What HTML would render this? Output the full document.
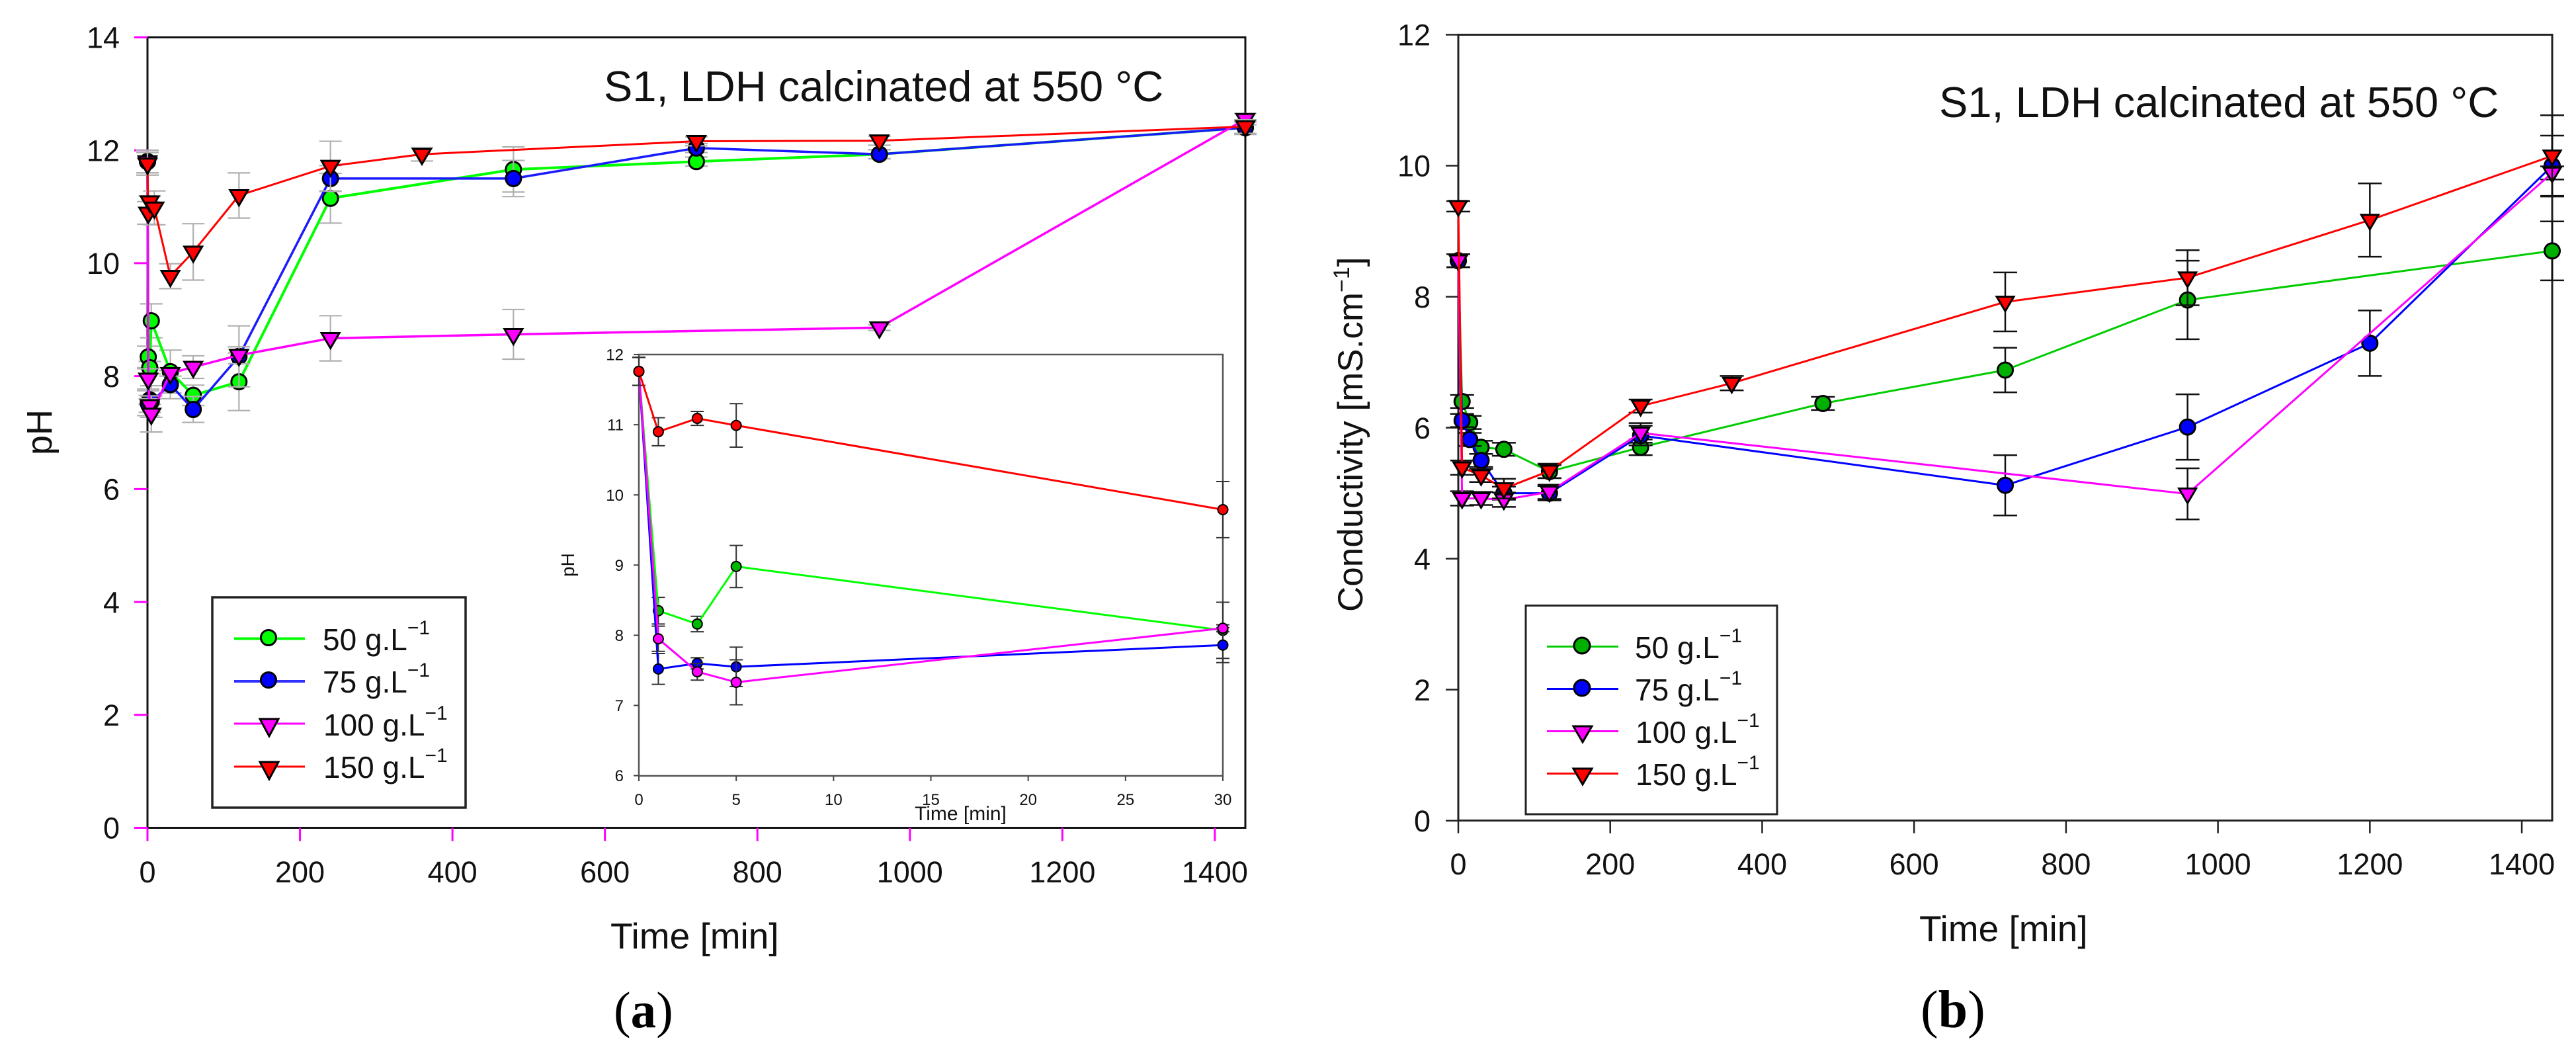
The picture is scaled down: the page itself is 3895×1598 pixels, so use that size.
<!DOCTYPE html>
<html lang="en">
<head>
<meta charset="utf-8">
<title>pH and conductivity over time</title>
<style>
html,body{margin:0;padding:0;background:#fff}
svg{display:block}
text{font-family:"Liberation Sans",sans-serif;fill:#111}
.cap{font-family:"Liberation Serif",serif;fill:#000}
</style>
</head>
<body>
<svg id="figure" xmlns="http://www.w3.org/2000/svg" width="3895" height="1598" viewBox="0 0 3895 1598">
<rect x="0" y="0" width="3895" height="1598" fill="#fff"/>

<g id="panel-a">
  <rect x="223" y="56.5" width="1660" height="1195" fill="none" stroke="#111" stroke-width="3"/>
  <text x="923" y="1434" font-size="55">Time [min]</text>
  <text transform="translate(78,688) rotate(-90)" font-size="54">pH</text>
  <text x="913" y="153" font-size="65">S1, LDH calcinated at 550 °C</text>
  <g id="ticks-a"></g>
  <g id="marks-a"></g>

  <g>
    <rect x="966" y="536" width="883" height="637" fill="none" stroke="#555" stroke-width="2.5"/>
    <text x="1383" y="1240" font-size="30" fill="#333">Time [min]</text>
    <text transform="translate(868,872) rotate(-90)" font-size="28">pH</text>
    <g id="ticks-i"></g>
    <g id="marks-i"></g>
  </g>

  <g>
    <rect x="321" y="903" width="383" height="318" fill="#fff" stroke="#222" stroke-width="3.5"/>
    <g>
      <line x1="354" x2="461" y1="965.5" y2="965.5" stroke="#00ff00" stroke-width="4"/>
      <circle cx="406" cy="964" r="11.5" fill="#00ff00" stroke="#000" stroke-width="3"/>
      <text x="488" y="983" font-size="46">50 g.L<tspan dy="-24" font-size="30">−1</tspan></text>
    </g>
    <g>
      <line x1="354" x2="461" y1="1030" y2="1030" stroke="#3030ff" stroke-width="4"/>
      <circle cx="406" cy="1028" r="11.5" fill="#0000ff" stroke="#000" stroke-width="3"/>
      <text x="488" y="1047" font-size="46">75 g.L<tspan dy="-24" font-size="30">−1</tspan></text>
    </g>
    <g>
      <line x1="354" x2="461" y1="1094" y2="1094" stroke="#ff00ff" stroke-width="3"/>
      <polygon points="393,1087 421,1087 407,1113" fill="#ff00ff" stroke="#000" stroke-width="3"/>
      <text x="489" y="1112" font-size="46">100 g.L<tspan dy="-24" font-size="30">−1</tspan></text>
    </g>
    <g>
      <line x1="354" x2="461" y1="1159" y2="1159" stroke="#ff0000" stroke-width="3"/>
      <polygon points="393,1152 421,1152 407,1178" fill="#ff0000" stroke="#000" stroke-width="3"/>
      <text x="489" y="1176" font-size="46">150 g.L<tspan dy="-24" font-size="30">−1</tspan></text>
    </g>
  </g>
  <text x="928" y="1553" font-size="77" class="cap">(<tspan font-weight="bold">a</tspan>)</text>
</g>

<g id="panel-b">
  <rect x="2205" y="52.5" width="1654" height="1188" fill="none" stroke="#222" stroke-width="3"/>
  <text x="2902" y="1423" font-size="55">Time [min]</text>
  <text transform="translate(2060,925) rotate(-90)" font-size="53">Conductivity [mS.cm<tspan dy="-20" font-size="34">−1</tspan><tspan dy="20">]</tspan></text>
  <text x="2932" y="177" font-size="65">S1, LDH calcinated at 550 °C</text>
  <g id="ticks-b"></g>
  <g id="marks-b"></g>

  <g>
    <rect x="2307" y="915.5" width="380" height="315.5" fill="#fff" stroke="#222" stroke-width="3"/>
    <g>
      <line x1="2339" x2="2447" y1="977.5" y2="977.5" stroke="#00cc00" stroke-width="3"/>
      <circle cx="2392" cy="976" r="12" fill="#00b000" stroke="#000" stroke-width="3"/>
      <text x="2472" y="995" font-size="46">50 g.L<tspan dy="-24" font-size="30">−1</tspan></text>
    </g>
    <g>
      <line x1="2339" x2="2447" y1="1041.5" y2="1041.5" stroke="#0000ff" stroke-width="3"/>
      <circle cx="2392" cy="1040" r="12" fill="#0000ff" stroke="#000" stroke-width="3"/>
      <text x="2472" y="1059" font-size="46">75 g.L<tspan dy="-24" font-size="30">−1</tspan></text>
    </g>
    <g>
      <line x1="2339" x2="2447" y1="1105.5" y2="1105.5" stroke="#ff00ff" stroke-width="3"/>
      <polygon points="2379,1098 2407,1098 2393,1122" fill="#ff00ff" stroke="#000" stroke-width="3"/>
      <text x="2473" y="1123" font-size="46">100 g.L<tspan dy="-24" font-size="30">−1</tspan></text>
    </g>
    <g>
      <line x1="2339" x2="2447" y1="1169.5" y2="1169.5" stroke="#ff0000" stroke-width="3"/>
      <polygon points="2379,1162 2407,1162 2393,1186" fill="#ff0000" stroke="#000" stroke-width="3"/>
      <text x="2473" y="1187" font-size="46">150 g.L<tspan dy="-24" font-size="30">−1</tspan></text>
    </g>
  </g>
  <text x="2904" y="1553" font-size="80" class="cap">(<tspan font-weight="bold">b</tspan>)</text>
</g>
</svg>

<script>
// ---------- panel (a): pH main chart ----------
const phTimeGreen = [0,1,3,5,30,60,120,240,480,720,960,1440];
const phGreen     = [11.8,8.34,8.15,8.98,8.08,7.66,7.9,11.15,11.66,11.8,11.93,12.4];
const phGreenErr  = [0.2,0.19,0.11,0.3,0.38,0.18,0.51,0.44,0.4,0.08,0.08,0.1];
const phTimeBlue  = [0,1,3,5,30,60,120,240,480,720,960,1440];
const phBlue      = [11.8,7.52,7.58,7.55,7.85,7.41,8.35,11.5,11.5,12.04,11.93,12.4];
const phBlueErr   = [0.2,0.22,0.08,0.28,0.25,0.23,0.54,0.23,0.32,0.08,0.08,0.12];
const phTimeMag   = [0,1,3,5,30,60,120,240,480,960,1440];
const phMag       = [11.8,7.95,7.48,7.33,8.05,8.16,8.37,8.67,8.74,8.86,12.55];
const phMagErr    = [0.2,0.18,0.12,0.32,0.05,0.2,0.15,0.4,0.44,0.05,0.1];
const phTimeRed   = [0,1,3,9,30,60,120,240,360,720,960,1440];
const phRed       = [11.76,10.89,11.09,10.98,9.77,10.2,11.2,11.72,11.93,12.16,12.17,12.42];
const phRedErr    = [0.2,0.2,0.1,0.3,0.22,0.5,0.4,0.44,0.12,0.08,0.08,0.12];

// ---------- inset: first 30 min ----------
const insetTime  = [0,1,3,5,30];
const inGreen    = [11.76,8.35,8.16,8.98,8.07];
const inGreenErr = [0.2,0.19,0.11,0.3,0.4];
const inBlue     = [11.76,7.52,7.6,7.55,7.86];
const inBlueErr  = [0.2,0.22,0.08,0.28,0.25];
const inMag      = [11.76,7.95,7.48,7.33,8.1];
const inMagErr   = [0.2,0.18,0.12,0.32,0.05];
const inRed      = [11.76,10.9,11.09,10.99,9.79];
const inRedErr   = [0.2,0.2,0.1,0.31,0.4];

// ---------- panel (b): conductivity ----------
const coTimeGreen = [0,5,15,30,60,120,240,480,720,960,1440];
const coGreen     = [8.55,6.4,6.08,5.7,5.67,5.33,5.7,6.37,6.88,7.95,8.7];
const coGreenErr  = [0.1,0.1,0.1,0.1,0.1,0.1,0.12,0.1,0.34,0.6,0.45];
const coTimeBlue  = [0,5,15,30,60,120,240,720,960,1200,1440];
const coBlue      = [8.55,6.11,5.82,5.5,5.0,5.0,5.88,5.12,6.01,7.29,10.0];
const coBlueErr   = [0.1,0.1,0.1,0.1,0.1,0.11,0.15,0.46,0.5,0.5,0.46];
const coTimeMag   = [0,5,30,60,120,240,960,1440];
const coMag       = [8.55,4.92,4.92,4.9,5.02,5.92,4.99,9.89];
const coMagErr    = [0.1,0.11,0.1,0.11,0.11,0.15,0.39,0.1];
const coTimeRed   = [0,5,30,60,120,240,360,720,960,1200,1440];
const coRed       = [9.38,5.39,5.27,5.07,5.34,6.33,6.68,7.92,8.29,9.17,10.15];
const coRedErr    = [0.08,0.11,0.1,0.15,0.11,0.1,0.11,0.45,0.42,0.56,0.62];

// ---------- tick labels ----------
const xTicksMain  = [0,200,400,600,800,1000,1200,1400];
const yTicksPh    = [0,2,4,6,8,10,12,14];
const yTicksCond  = [0,2,4,6,8,10,12];
const xTicksInset = [0,5,10,15,20,25,30];
const yTicksInset = [6,7,8,9,10,11,12];

// ---------- axis functions ----------
function xA(t){ return 223 + t * (1883 - 223) / 1440; }
function yA(v){ return 1251.5 - v * (1251.5 - 56.5) / 14; }
function xI(t){ return 966 + t * (1849 - 966) / 30; }
function yI(v){ return 1172.6 - (v - 6) * (1172.6 - 536) / 6; }
function xB(t){ return 2205 + t * (3859 - 2205) / 1440; }
function yB(v){ return 1240.7 - v * (1240.7 - 52.5) / 12; }

const NS = 'http://www.w3.org/2000/svg';
function make(parent, tag, attrs){
  const el = document.createElementNS(NS, tag);
  for (const k in attrs) el.setAttribute(k, attrs[k]);
  parent.appendChild(el);
  return el;
}

function drawTicks(group, xTicks, yTicks, xf, yf, o){
  const g = document.getElementById(group);
  xTicks.forEach(function(t){
    const x = xf(t);
    const tick = make(g, 'line', {x1:x, x2:x, y1:o.yBase, y2:o.yBase + o.len, stroke:o.color, 'stroke-width':o.w});
    
    
    const lab = make(g, 'text', {x:x + (o.xLabDx || 0), y:o.xLabY, 'font-size':o.font, 'text-anchor':'middle'});
    lab.textContent = String(t);
    
    
  });
  yTicks.forEach(function(v){
    const y = yf(v);
    const tick = make(g, 'line', {x1:o.xBase - o.len, x2:o.xBase, y1:y, y2:y, stroke:o.color, 'stroke-width':o.w});
    
    
    const lab = make(g, 'text', {x:o.yLabX, y:y + o.font * 0.36, 'font-size':o.font, 'text-anchor':'end'});
    lab.textContent = String(v);
    
    
  });
}

function drawSeries(group, list, xf, yf, o){
  const g = document.getElementById(group);
  list.forEach(function(s){
    const sg = make(g, 'g', {});
    
    
    s.t.forEach(function(t, i){
      const x = xf(t), hi = yf(s.v[i] + s.e[i]), lo = yf(s.v[i] - s.e[i]);
      const eb = make(sg, 'path', {d:'M'+x+' '+hi+'V'+lo+'M'+(x-o.capHalf)+' '+hi+'H'+(x+o.capHalf)+'M'+(x-o.capHalf)+' '+lo+'H'+(x+o.capHalf), fill:'none', stroke:o.errColor, 'stroke-width':o.errW});
      
      
    });
    const pts = s.t.map(function(t, i){ return xf(t) + ',' + yf(s.v[i]); }).join(' ');
    const line = make(sg, 'polyline', {points:pts, fill:'none', stroke:s.line, 'stroke-width':s.lw, 'stroke-linejoin':'round'});
    
    
    s.t.forEach(function(t, i){
      const x = xf(t), y = yf(s.v[i]);
      let m;
      if (s.shape === 'circle') {
        m = make(sg, 'circle', {cx:x, cy:y, r:o.r, fill:s.fill, stroke:'#000', 'stroke-width':o.mw});
      } else {
        m = make(sg, 'polygon', {points:(x-o.triHalf)+','+(y-o.triTop)+' '+(x+o.triHalf)+','+(y-o.triTop)+' '+x+','+(y+o.triBot), fill:s.fill, stroke:'#000', 'stroke-width':o.mw});
      }
      
      
    });
  });
}

drawTicks('ticks-a', xTicksMain, yTicksPh, xA, yA, {yBase:1251.5, xBase:223, len:20, color:'#ff00ff', w:3, font:45, xLabY:1334, yLabX:181});
drawTicks('ticks-i', xTicksInset, yTicksInset, xI, yI, {yBase:1173, xBase:966, len:8, color:'#444', w:2, font:24, xLabY:1217, yLabX:943});
drawTicks('ticks-b', xTicksMain, yTicksCond, xB, yB, {yBase:1240.7, xBase:2205, len:19, color:'#222', w:2.5, font:45, xLabY:1322, yLabX:2163});

drawSeries('marks-a', [
  {name:'50-g-l', t:phTimeGreen, v:phGreen, e:phGreenErr, line:'#00ff00', lw:4, fill:'#00ff00', shape:'circle'},
  {name:'75-g-l', t:phTimeBlue, v:phBlue, e:phBlueErr, line:'#1a1aff', lw:3.5, fill:'#0000ff', shape:'circle'},
  {name:'100-g-l', t:phTimeMag, v:phMag, e:phMagErr, line:'#ff00ff', lw:3.5, fill:'#ff00ff', shape:'tri'},
  {name:'150-g-l', t:phTimeRed, v:phRed, e:phRedErr, line:'#ff0000', lw:3, fill:'#ff0000', shape:'tri'}
], xA, yA, {capHalf:17, errColor:'#b0b0b0', errW:2.2, r:11.5, mw:3, triHalf:13.5, triTop:8, triBot:15});

drawSeries('marks-i', [
  {name:'inset-50-g-l', t:insetTime, v:inGreen, e:inGreenErr, line:'#00ff00', lw:3, fill:'#00b800', shape:'circle'},
  {name:'inset-75-g-l', t:insetTime, v:inBlue, e:inBlueErr, line:'#0000ff', lw:3, fill:'#0000ff', shape:'circle'},
  {name:'inset-100-g-l', t:insetTime, v:inMag, e:inMagErr, line:'#ff00ff', lw:3, fill:'#ff00ff', shape:'circle'},
  {name:'inset-150-g-l', t:insetTime, v:inRed, e:inRedErr, line:'#ff0000', lw:3, fill:'#ff0000', shape:'circle'}
], xI, yI, {capHalf:10, errColor:'#333', errW:2, r:7.5, mw:2, triHalf:8, triTop:6, triBot:10});

drawSeries('marks-b', [
  {name:'b-50-g-l', t:coTimeGreen, v:coGreen, e:coGreenErr, line:'#00cc00', lw:3, fill:'#00b000', shape:'circle'},
  {name:'b-75-g-l', t:coTimeBlue, v:coBlue, e:coBlueErr, line:'#0000ff', lw:3, fill:'#0000ff', shape:'circle'},
  {name:'b-100-g-l', t:coTimeMag, v:coMag, e:coMagErr, line:'#ff00ff', lw:3, fill:'#ff00ff', shape:'tri'},
  {name:'b-150-g-l', t:coTimeRed, v:coRed, e:coRedErr, line:'#ff0000', lw:3, fill:'#ff0000', shape:'tri'}
], xB, yB, {capHalf:18, errColor:'#111', errW:2.5, r:11.5, mw:3, triHalf:13, triTop:8, triBot:14});
</script>
</body>
</html>
